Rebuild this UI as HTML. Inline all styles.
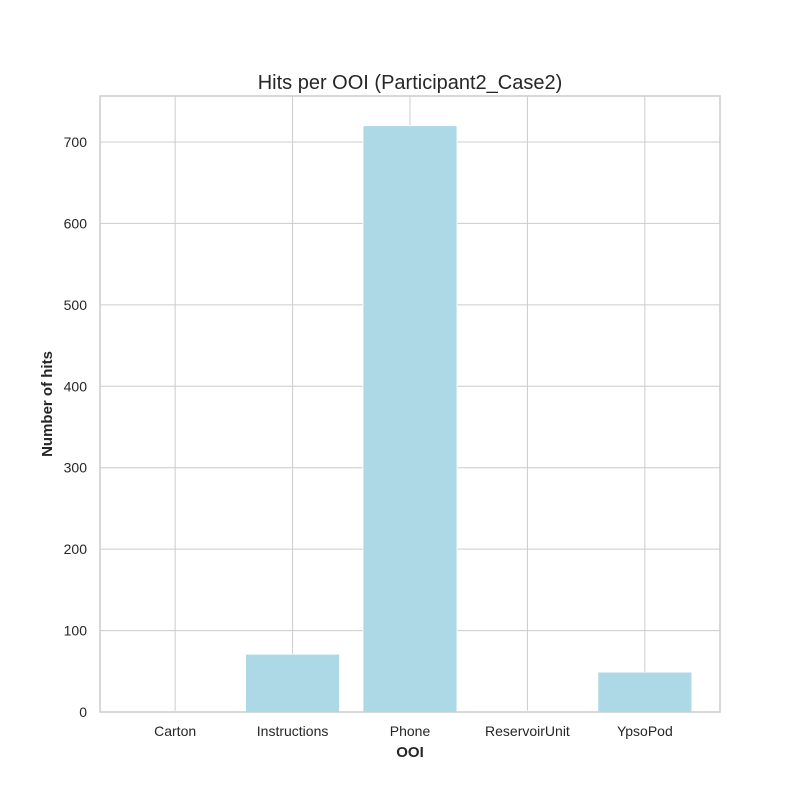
<!DOCTYPE html>
<html><head><meta charset="utf-8"><style>body{margin:0;background:#fff}svg{display:block;font-family:"Liberation Sans",Arial,sans-serif}</style></head>
<body>
<svg id="chart" width="800" height="800"></svg>
<script>
const categories = ["Carton","Instructions","Phone","ReservoirUnit","YpsoPod"];
const hits = [1, 71, 720, 1, 49];
const yTicks = [0,100,200,300,400,500,600,700];
const L=100,R=720,T=96,B=712, yMax=756.5, xMin=-0.64, xMax=4.64;
const ns="http://www.w3.org/2000/svg", svg=document.getElementById('chart');
const xS=v=>L+(v-xMin)/(xMax-xMin)*(R-L);
const yS=v=>B-v/yMax*(B-T);
function mk(t,a,txt){const e=document.createElementNS(ns,t);for(const k in a)e.setAttribute(k,a[k]);if(txt!=null)e.textContent=txt;svg.appendChild(e);return e;}
const bg=mk('rect',{x:L,y:T,width:R-L,height:B-T,fill:'#fff'});


yTicks.forEach(v=>{
 const g=mk('line',{x1:L,x2:R,y1:yS(v),y2:yS(v),stroke:'#cccccc','stroke-width':1});
 
 
 const t=mk('text',{x:L-13,y:yS(v)+5,'text-anchor':'end','font-size':14,fill:'#262626'},v);
 
 
});
categories.forEach((c,i)=>{
 const g=mk('line',{x1:xS(i),x2:xS(i),y1:T,y2:B,stroke:'#cccccc','stroke-width':1});
 
 
});
categories.forEach((c,i)=>{
 const w=xS(0.4)-xS(-0.4);
 const b=mk('rect',{x:xS(i-0.4),y:yS(hits[i]),width:w,height:B-yS(hits[i]),fill:'#add8e6',stroke:'#fff','stroke-width':0.8});
 
 
 const t=mk('text',{x:xS(i),y:B+24,'text-anchor':'middle','font-size':14,fill:'#262626'},c);
 
 
});
const fr=mk('rect',{x:L,y:T,width:R-L,height:B-T,fill:'none',stroke:'#cccccc','stroke-width':1.5});


const ti=mk('text',{x:410,y:89,'text-anchor':'middle','font-size':20,fill:'#262626'},'Hits per OOI (Participant2_Case2)');


const xl=mk('text',{x:410,y:757,'text-anchor':'middle','font-size':15,'font-weight':'bold',fill:'#262626'},'OOI');


const yl=mk('text',{x:0,y:0,'text-anchor':'middle','font-size':15,'font-weight':'bold',fill:'#262626',transform:'translate(52,404) rotate(-90)'},'Number of hits');


</script>
</body></html>
